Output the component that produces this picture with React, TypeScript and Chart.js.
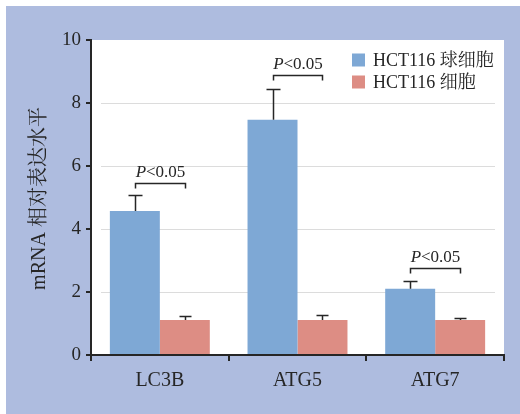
import React, { useEffect, useRef } from "react";
import { Chart, registerables } from "chart.js";

Chart.register(...registerables);

const categories = ["LC3B", "ATG5", "ATG7"];
const sphereLabel = "HCT116 球细胞";
const cellLabel = "HCT116 细胞";
const sphereValues = [4.57, 7.47, 2.1];
const sphereErrors = [0.51, 0.98, 0.24];
const cellValues = [1.11, 1.11, 1.11];
const cellErrors = [0.14, 0.15, 0.07];
const bracketLevels = [5.45, 8.89, 2.77];
const bracketText = ["P", "<0.05"];
const yTitle = "mRNA 相对表达水平";
const yTicks = [0, 2, 4, 6, 8, 10];

const SERIF = "'Liberation Serif', 'Noto Serif CJK SC', 'Noto Sans CJK SC', serif";
const BLUE = "#7ea8d5";
const SALMON = "#dd8d84";
const BG = "#aebcdf";
const INK = "#262626";

const decorPlugin = {
  id: "decor",
  beforeDraw(chart: any) {
    const { ctx, chartArea } = chart;
    ctx.save();
    ctx.fillStyle = "#ffffff";
    ctx.fillRect(chartArea.left, chartArea.top, chartArea.right - chartArea.left, chartArea.bottom - chartArea.top);
    ctx.restore();
  },
  beforeDatasetsDraw(chart: any) {
    const { ctx, chartArea, scales } = chart;
    const y = scales.y;
    ctx.save();
    ctx.strokeStyle = "#dcdcdc";
    ctx.lineWidth = 1.2;
    yTicks.forEach((t) => {
      if (t === 0 || t === 10) return;
      const py = Math.round(y.getPixelForValue(t)) + 0.5;
      ctx.beginPath();
      ctx.moveTo(chartArea.left + 10, py);
      ctx.lineTo(chartArea.right - 9, py);
      ctx.stroke();
    });
    ctx.restore();
  },
  afterDatasetsDraw(chart: any) {
    const { ctx, scales } = chart;
    const y = scales.y;
    const errs = [sphereErrors, cellErrors];
    const vals = [sphereValues, cellValues];
    ctx.save();
    ctx.strokeStyle = INK;
    ctx.lineWidth = 1.5;
    [0, 1].forEach((di) => {
      const meta = chart.getDatasetMeta(di);
      meta.data.forEach((bar: any, j: number) => {
        const x = Math.round(bar.x) + 0.5;
        const top = y.getPixelForValue(vals[di][j]);
        const ey = Math.round(y.getPixelForValue(vals[di][j] + errs[di][j])) + 0.5;
        const half = di === 0 ? 7 : 6;
        ctx.beginPath();
        ctx.moveTo(x, top);
        ctx.lineTo(x, ey);
        ctx.moveTo(x - half, ey);
        ctx.lineTo(x + half, ey);
        ctx.stroke();
      });
    });
    // significance brackets
    const m0 = chart.getDatasetMeta(0);
    const m1 = chart.getDatasetMeta(1);
    categories.forEach((_, j) => {
      const x1 = Math.round(m0.data[j].x) + 0.5;
      const x2 = Math.round(m1.data[j].x) + 0.5;
      const by = Math.round(y.getPixelForValue(bracketLevels[j])) + 0.5;
      ctx.strokeStyle = INK;
      ctx.lineWidth = 1.5;
      ctx.beginPath();
      ctx.moveTo(x1, by + 5);
      ctx.lineTo(x1, by);
      ctx.lineTo(x2, by);
      ctx.lineTo(x2, by + 5);
      ctx.stroke();
      ctx.fillStyle = INK;
      ctx.textBaseline = "alphabetic";
      ctx.font = "italic 17px " + SERIF;
      const w1 = ctx.measureText(bracketText[0]).width;
      ctx.font = "17px " + SERIF;
      const w2 = ctx.measureText(bracketText[1]).width;
      const cx = (x1 + x2) / 2;
      const sx = cx - (w1 + w2) / 2;
      const ty = by - 7;
      ctx.font = "italic 17px " + SERIF;
      ctx.fillText(bracketText[0], sx, ty);
      ctx.font = "17px " + SERIF;
      ctx.fillText(bracketText[1], sx + w1, ty);
    });
    ctx.restore();
  },
  afterDraw(chart: any) {
    const { ctx } = chart;
    ctx.save();
    // y title
    ctx.fillStyle = INK;
    ctx.font = "20px " + SERIF;
    ctx.textAlign = "center";
    ctx.textBaseline = "middle";
    ctx.translate(33.5, 192.5);
    ctx.rotate(-Math.PI / 2);
    ctx.fillText(yTitle, 0, 0);
    ctx.restore();
    // legend
    ctx.save();
    const items = chart.data.datasets.map((d: any) => ({ label: d.label, color: d.backgroundColor }));
    items.forEach((it: any, i: number) => {
      const cy = 54 + i * 22;
      ctx.fillStyle = it.color;
      ctx.fillRect(346, cy - 6.5, 13, 13);
      ctx.fillStyle = INK;
      ctx.font = "18px " + SERIF;
      ctx.textAlign = "left";
      ctx.textBaseline = "middle";
      ctx.fillText(it.label, 367, cy + 1);
    });
    ctx.restore();
  },
};

export default function App() {
  const ref = useRef<HTMLCanvasElement | null>(null);
  useEffect(() => {
    if (!ref.current) return;
    const chart = new Chart(ref.current, {
      type: "bar",
      data: {
        labels: categories,
        datasets: [
          { label: sphereLabel, data: sphereValues, backgroundColor: BLUE, borderWidth: 0 },
          { label: cellLabel, data: cellValues, backgroundColor: SALMON, borderWidth: 0 },
        ],
      },
      options: {
        responsive: false,
        animation: false,
        devicePixelRatio: 1,
        layout: { padding: { top: 34, right: 16, left: 0, bottom: 0 } },
        plugins: { legend: { display: false }, tooltip: { enabled: false }, title: { display: false } },
        datasets: { bar: { barPercentage: 1, categoryPercentage: 0.726 } },
        scales: {
          x: {
            afterFit: (s: any) => { s.height = 59; },
            grid: { offset: true, drawOnChartArea: false, drawTicks: true, tickLength: 6, color: INK, lineWidth: 2 },
            border: { display: true, color: INK, width: 2 },
            ticks: { color: INK, font: { family: SERIF, size: 20 }, padding: 8 },
          },
          y: {
            min: 0,
            max: 10,
            afterFit: (s: any) => { s.width = 85; },
            afterBuildTicks: (s: any) => { s.ticks = yTicks.map((v) => ({ value: v })); },
            grid: { drawOnChartArea: false, drawTicks: true, tickLength: 5, color: INK, lineWidth: 2 },
            border: { display: true, color: INK, width: 2 },
            ticks: { color: INK, font: { family: SERIF, size: 19 }, padding: 5 },
          },
        },
      },
      plugins: [decorPlugin],
    });
    return () => chart.destroy();
  }, []);
  return (
    <div style={{ position: "absolute", left: 0, top: 0, width: 520, height: 414, background: "#ffffff" }}>
      <canvas
        ref={ref}
        width={514}
        height={408}
        style={{ position: "absolute", left: 6, top: 6, width: 514, height: 408, background: BG }}
      />
    </div>
  );
}
